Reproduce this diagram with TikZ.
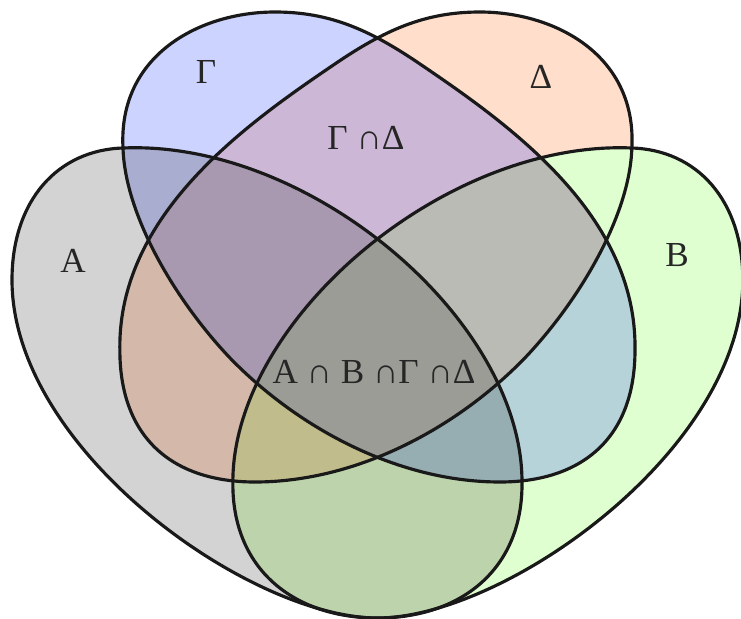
\documentclass[tikz,border=0pt]{standalone}
\usepackage{fontspec}
\setmainfont{Liberation Serif}
\usepackage{xcolor}
\definecolor{setA}{RGB}{211,211,211}
\definecolor{setB}{RGB}{224,255,208}
\definecolor{setG}{RGB}{204,211,255}
\definecolor{setD}{RGB}{255,223,204}
\definecolor{setAB}{RGB}{189,211,172}
\definecolor{setAG}{RGB}{169,173,207}
\definecolor{setAD}{RGB}{212,185,170}
\definecolor{setBG}{RGB}{181,211,216}
\definecolor{setBD}{RGB}{224,255,208}
\definecolor{setGD}{RGB}{204,184,214}
\definecolor{setABG}{RGB}{150,173,178}
\definecolor{setABD}{RGB}{193,188,140}
\definecolor{setAGD}{RGB}{168,152,176}
\definecolor{setBGD}{RGB}{187,187,181}
\definecolor{setall}{RGB}{155,156,150}
\newcommand{\shapeA}{(123,148) .. controls (310,140) and (522,320) .. (522,482)
  .. controls (523,570) and (460,618) .. (377.5,618)
  .. controls (250,618) and (12,450) .. (12,280)
  .. controls (12,200) and (58,150) .. cycle}
\newcommand{\shapeG}{(123,148) .. controls (118,55) and (200,12) .. (275,12)
  .. controls (330,12) and (370,30) .. (420,64)
  .. controls (510,125) and (637,215) .. (635,350)
  .. controls (635,440) and (580,482) .. (500,482)
  .. controls (400,482) and (300,430) .. (230,358)
  .. controls (175,300) and (125,215) .. cycle}

\begin{document}
\begin{tikzpicture}[x=0.02cm,y=-0.02cm,
  flip/.style={xshift=15.1cm,xscale=-1},
  outline/.style={draw=black!90,line width=1.8pt,line join=round},
  setlabel/.style={font=\fontsize{20}{24}\selectfont,text=black!85,inner sep=0pt}]
\useasboundingbox (0,0) rectangle (741,619);
\fill[white] (0,0) rectangle (741,619);

\fill[setA] \shapeA;
\fill[setB,flip] \shapeA;
\fill[setG] \shapeG;
\fill[setD,flip] \shapeG;

\begin{scope}\clip \shapeA; \fill[setAB,flip] \shapeA; \end{scope}
\begin{scope}\clip \shapeA; \fill[setAG] \shapeG; \end{scope}
\begin{scope}\clip \shapeA; \fill[setAD,flip] \shapeG; \end{scope}
\begin{scope}\clip[flip] \shapeA; \fill[setBG] \shapeG; \end{scope}
\begin{scope}\clip[flip] \shapeA; \fill[setBD,flip] \shapeG; \end{scope}
\begin{scope}\clip \shapeG; \fill[setGD,flip] \shapeG; \end{scope}

\begin{scope}\clip \shapeA; \clip[flip] \shapeA; \fill[setABG] \shapeG; \end{scope}
\begin{scope}\clip \shapeA; \clip[flip] \shapeA; \fill[setABD,flip] \shapeG; \end{scope}
\begin{scope}\clip \shapeA; \clip \shapeG; \fill[setAGD,flip] \shapeG; \end{scope}
\begin{scope}\clip[flip] \shapeA; \clip \shapeG; \fill[setBGD,flip] \shapeG; \end{scope}

\begin{scope}\clip \shapeA; \clip[flip] \shapeA; \clip \shapeG; \fill[setall,flip] \shapeG; \end{scope}

\draw[outline] \shapeA;
\draw[outline,flip] \shapeA;
\draw[outline] \shapeG;
\draw[outline,flip] \shapeG;

\node[setlabel] (labelA) at (73,261) {A};
\node[setlabel] (labelB) at (677,255) {B};
\node[setlabel] (labelG) at (206,72) {Γ};
\node[setlabel] (labelD) at (541,77) {Δ};
\node[setlabel] (labelGD) at (366,138) {Γ ∩Δ};
\node[setlabel] (labelall) at (374,372) {A ∩ B ∩Γ ∩Δ};
\end{tikzpicture}
\end{document}
